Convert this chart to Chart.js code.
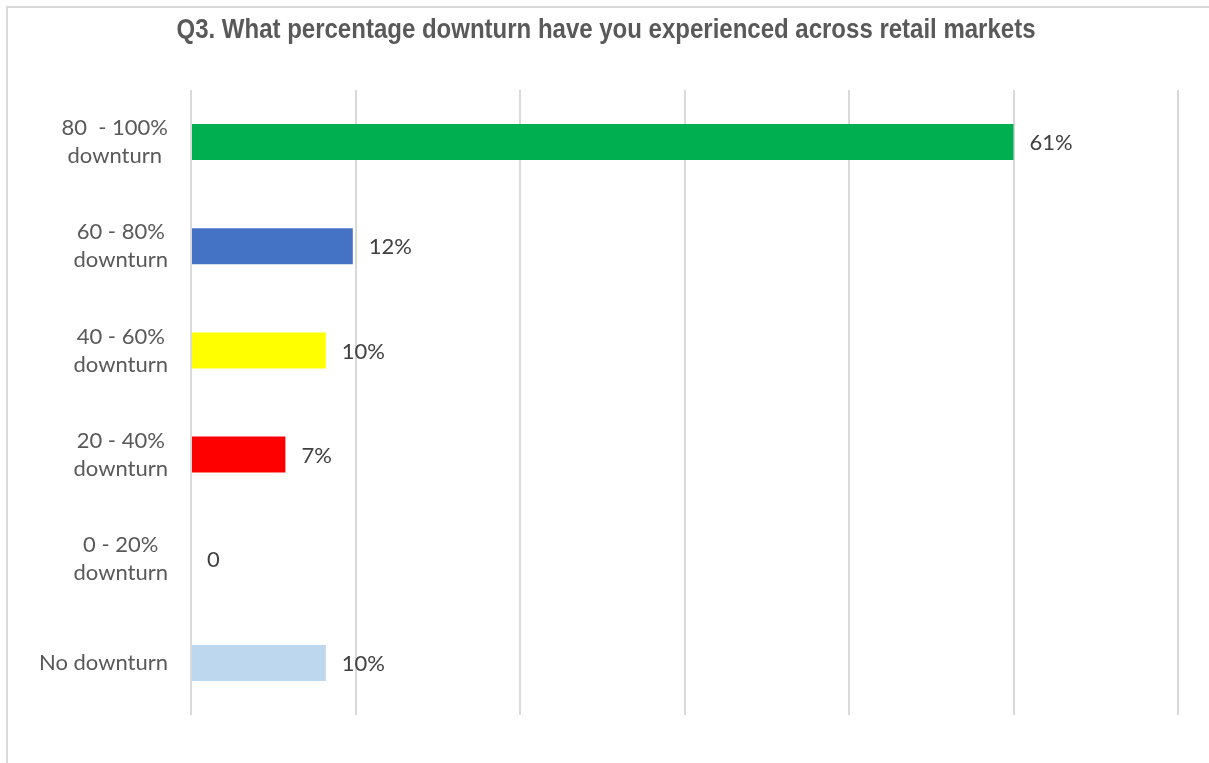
<!DOCTYPE html>
<html>
<head>
<meta charset="utf-8">
<title>Q3. What percentage downturn have you experienced across retail markets</title>
<script src="https://cdn.jsdelivr.net/npm/chart.js@4/dist/chart.umd.min.js"></script>
<style>
    html, body { margin: 0; padding: 0; background: #ffffff; }
    #wrap { position: relative; width: 1209px; height: 763px; }
</style>
</head>
<body>
<div id="wrap"><canvas id="downturnChart" width="1209" height="763"></canvas></div>
<script>
// survey answers, top to bottom
const categories = [
    ['80  - 100%', 'downturn'],
    ['60 - 80%', 'downturn'],
    ['40 - 60%', 'downturn'],
    ['20 - 40%', 'downturn'],
    ['0 - 20%', 'downturn'],
    ['No downturn']
]
const shares = [61, 12, 10, 7, 0, 10]
const barColors = ['#00B050', '#4472C4', '#FFFF00', '#FF0000', '#FFFFFF', '#BDD7EE']
const chartTitle = 'Q3. What percentage downturn have you experienced across retail markets'
// vertical gridlines: six steps across the plot
const gridStep = 12.2
const gridSteps = 6

const labelFont = '22px Lato, "Open Sans", sans-serif'

// light frame round the chart (right and bottom edges fall outside the canvas)
const framePlugin = {
    id: 'frame',
    beforeDraw(chart) {
        let ctx = chart.ctx
        ctx.save()
        ctx.strokeStyle = '#D9D9D9'
        ctx.lineWidth = 2
        ctx.beginPath()
        ctx.moveTo(7, chart.height)
        ctx.lineTo(7, 7)
        ctx.lineTo(chart.width, 7)
        ctx.stroke()
        ctx.restore()
    }
}

// condensed bold title
const titlePlugin = {
    id: 'narrowTitle',
    afterDraw(chart) {
        let ctx = chart.ctx
        ctx.save()
        ctx.font = 'bold 28px "Liberation Sans Narrow", "Liberation Sans", Arial, sans-serif'
        let w = ctx.measureText(chartTitle).width
        let s = Math.min(1, 859 / w)
        ctx.translate(606, 38)
        ctx.scale(s, 1)
        ctx.fillStyle = '#595959'
        ctx.textAlign = 'center'
        ctx.textBaseline = 'alphabetic'
        ctx.fillText(chartTitle, 0, 0)
        ctx.restore()
    }
}

// category names: lines centred inside a right-aligned block
const categoryPlugin = {
    id: 'categoryLabels',
    afterDraw(chart) {
        let ctx = chart.ctx
        let y = chart.scales.y
        let right = chart.chartArea.left - 23
        let lineH = 28
        ctx.save()
        ctx.font = labelFont
        ctx.fillStyle = '#595959'
        ctx.textAlign = 'center'
        ctx.textBaseline = 'middle'
        categories.forEach(function (lines, i) {
            let cy = y.getPixelForValue(i)
            let width = Math.max.apply(null, lines.map(function (l) { return ctx.measureText(l).width }))
            let cx = right - width / 2
            let top = cy - (lines.length - 1) * lineH / 2
            lines.forEach(function (l, j) {
                ctx.fillText(l, cx, top + j * lineH)
            })
        })
        ctx.restore()
    }
}

// value labels at the end of each bar
const valuePlugin = {
    id: 'valueLabels',
    afterDatasetsDraw(chart) {
        let ctx = chart.ctx
        let meta = chart.getDatasetMeta(0)
        ctx.save()
        ctx.font = labelFont
        ctx.fillStyle = '#404040'
        ctx.textAlign = 'left'
        ctx.textBaseline = 'middle'
        meta.data.forEach(function (bar, i) {
            let v = shares[i]
            let text = v === 0 ? '0' : v + '%'
            ctx.fillText(text, bar.x + 16, bar.y + 1)
        })
        ctx.restore()
    }
}

new Chart(document.getElementById('downturnChart'), {
    type: 'bar',
    data: {
        labels: categories,
        datasets: [{
            data: shares,
            backgroundColor: barColors,
            borderWidth: 0,
            categoryPercentage: 1,
            barPercentage: 0.345
        }]
    },
    options: {
        indexAxis: 'y',
        responsive: false,
        animation: false,
        events: [],
        layout: {
            padding: { left: 191, right: 31, top: 90, bottom: 48 }
        },
        plugins: {
            legend: { display: false },
            title: { display: false },
            tooltip: { enabled: false }
        },
        scales: {
            x: {
                min: 0,
                max: gridStep * gridSteps,
                afterBuildTicks(scale) {
                    let t = []
                    for (let i = 0; i <= gridSteps; i++) t.push({ value: i * gridStep })
                    scale.ticks = t
                },
                ticks: { display: false },
                border: { display: false },
                grid: { color: '#D9D9D9', lineWidth: 2, drawTicks: false }
            },
            y: {
                display: false
            }
        }
    },
    plugins: [framePlugin, titlePlugin, categoryPlugin, valuePlugin]
})
</script>
</body>
</html>
